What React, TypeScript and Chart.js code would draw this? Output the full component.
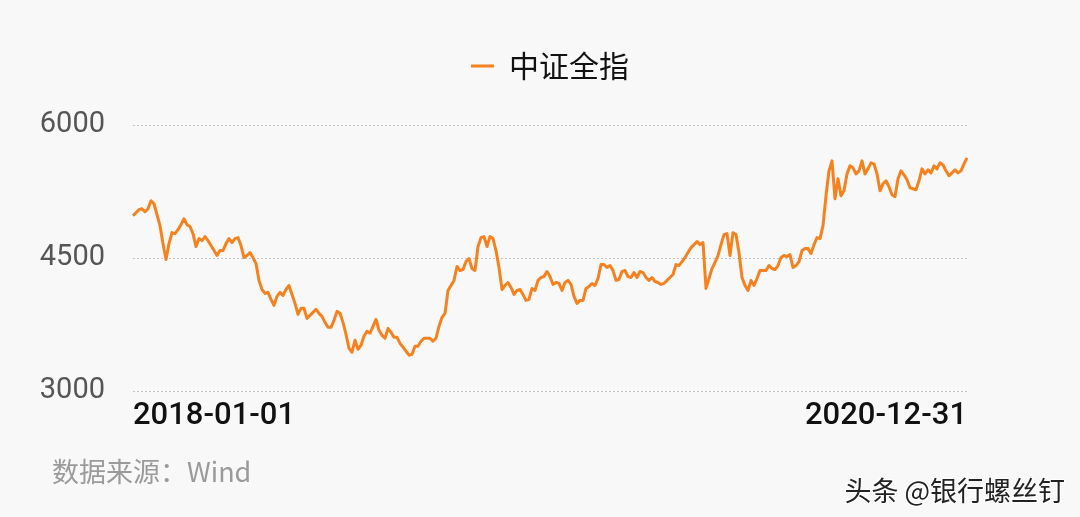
import React, { useEffect, useRef } from 'react';
import { Chart, registerables } from 'chart.js';

Chart.register(...registerables);

const seriesName = '中证全指';
const xTickLabels = ['2018-01-01', '2020-12-31'];
const yTickValues = [3000, 4500, 6000];
const sourceText = '数据来源：Wind';
const watermarkText = '头条 @银行螺丝钉';

const values2018 = [
  4977, 5011, 5045, 5056, 5022, 5056, 5146, 5112, 4988, 4865, 4662, 4483, 4662, 4786, 4775, 4820,
  4876, 4943, 4876, 4854, 4775, 4629, 4719, 4696, 4741, 4696, 4640, 4584, 4528, 4584, 4584, 4662,
  4719, 4674, 4719, 4730, 4640, 4505, 4528, 4561, 4505, 4438, 4247, 4145, 4100, 4112, 4033, 3966,
  4067, 4112, 4078, 4145, 4190, 4089, 3988, 3864, 3932, 3932, 3819, 3853, 3887, 3921, 3876, 3842,
  3774, 3718, 3718, 3797, 3898, 3876, 3774, 3640, 3482, 3437, 3572, 3471, 3516, 3617, 3673, 3651,
  3729, 3808, 3685, 3628, 3595, 3707, 3662, 3606, 3606, 3538, 3494, 3449, 3404,
];
const values2019 = [
  3415, 3505, 3505, 3561, 3595, 3595, 3595, 3561, 3595, 3729, 3831, 3876, 4134, 4190, 4247, 4404,
  4359, 4370, 4460, 4494, 4381, 4359, 4629, 4730, 4741, 4629, 4741, 4719, 4584, 4393, 4145, 4190,
  4224, 4168, 4089, 4134, 4145, 4089, 4022, 4033, 4157, 4134, 4247, 4280, 4291, 4348, 4291, 4202,
  4224, 4213, 4134, 4224, 4247, 4202, 4067, 3988, 4022, 4022, 4157, 4179, 4213, 4190, 4269, 4426,
  4426, 4393, 4415, 4359, 4247, 4258, 4348, 4359, 4291, 4280, 4336, 4280, 4348, 4336, 4280, 4247,
  4280, 4235, 4224, 4202, 4213, 4247, 4280, 4314, 4426, 4415, 4460, 4505, 4561,
];
const values2020 = [
  4617, 4651, 4685, 4651, 4674, 4157, 4269, 4381, 4449, 4528, 4651, 4764, 4775, 4528, 4786, 4764,
  4561, 4280, 4190, 4134, 4247, 4190, 4269, 4359, 4359, 4359, 4415, 4381, 4370, 4415, 4505, 4528,
  4516, 4539, 4393, 4415, 4460, 4584, 4606, 4606, 4550, 4651, 4730, 4719, 4865, 5202, 5483, 5595,
  5168, 5393, 5202, 5258, 5449, 5539, 5517, 5449, 5483, 5595, 5449, 5505, 5573, 5562, 5449, 5258,
  5337, 5371, 5303, 5213, 5191, 5393, 5483, 5438, 5382, 5292, 5281, 5269, 5371, 5505, 5449, 5494,
  5460, 5539, 5505, 5573, 5550, 5483, 5427, 5460, 5494, 5460, 5483, 5562, 5629,
];
const values = [...values2018, ...values2019, ...values2020];

const lineColor = '#f5821f';

export default function App() {
  const ref = useRef<HTMLCanvasElement | null>(null);

  useEffect(() => {
    if (!ref.current) return;
    const labels = values.map((_, i) => String(i));
    const last = values.length - 1;

    const legendSpacer = {
      id: 'legendSpacer',
      afterInit(chart: any) {
        const legend = chart.legend;
        if (!legend) return;
        const origFit = legend.fit;
        legend.fit = function () {
          origFit.call(this);
          this.height += 34;
        };
      },
    };

    const chart = new Chart(ref.current, {
      type: 'line',
      data: {
        labels,
        datasets: [
          {
            label: seriesName,
            data: values,
            borderColor: lineColor,
            backgroundColor: lineColor,
            borderWidth: 3,
            pointRadius: 0,
            tension: 0,
            borderJoinStyle: 'round',
          },
        ],
      },
      options: {
        animation: false,
        responsive: false,
        maintainAspectRatio: false,
        layout: { padding: { top: 19, right: 113, bottom: 0, left: 0 } },
        plugins: {
          legend: {
            position: 'top',
            fullSize: false,
            labels: {
              usePointStyle: true,
              pointStyleWidth: 23,
              pointStyle: 'line',
              padding: 32,
              color: '#111',
              font: { size: 30, family: '"Noto Sans CJK SC", "Noto Sans", sans-serif' },
            },
          },
          tooltip: { enabled: false },
        },
        scales: {
          x: {
            grid: { display: false },
            border: { display: false },
            ticks: {
              autoSkip: false,
              maxRotation: 0,
              minRotation: 0,
              align: 'inner',
              padding: -1,
              color: '#111',
              font: { size: 31, family: 'Roboto, "Noto Sans", sans-serif', weight: 500 },
              callback: (_v: any, i: number) =>
                i === 0 ? xTickLabels[0] : i === last ? xTickLabels[1] : '',
            },
            afterFit: (s: any) => {
              s.height = 126;
            },
          },
          y: {
            min: 3000,
            max: 6000,
            afterBuildTicks: (s: any) => {
              s.ticks = yTickValues.map((v) => ({ value: v }));
            },
            grid: { color: '#c4c4c4', lineWidth: 1, drawTicks: false },
            border: { display: false, dash: [2, 2] },
            ticks: {
              padding: 28,
              color: '#555',
              font: { size: 29, family: 'Roboto, "Noto Sans", sans-serif' },
              callback: (v: any) => String(v),
            },
            afterFit: (s: any) => {
              s.width = 133;
            },
          },
        },
      },
      plugins: [legendSpacer],
    } as any);

    return () => chart.destroy();
  }, []);

  return (
    <div
      style={{
        position: 'fixed',
        left: 0,
        top: 0,
        width: 1080,
        height: 517,
        background: '#f8f8f8',
        overflow: 'hidden',
      }}
    >
      <canvas ref={ref} width={1080} height={517} style={{ display: 'block', width: 1080, height: 517 }} />
      <div
        style={{
          position: 'absolute',
          left: 52,
          top: 457,
          fontSize: 27,
          lineHeight: '28px',
          color: '#9a9a9a',
          fontFamily: '"Noto Sans CJK SC", sans-serif',
          whiteSpace: 'nowrap',
        }}
      >
        {sourceText}
      </div>
      <div
        style={{
          position: 'absolute',
          right: 15,
          top: 475,
          fontSize: 27,
          lineHeight: '30px',
          color: '#222',
          fontFamily: '"Noto Sans CJK SC", sans-serif',
          whiteSpace: 'nowrap',
          textShadow: '1px 1px 0 #fff, -1px -1px 0 #fff, 1px -1px 0 #fff, -1px 1px 0 #fff',
        }}
      >
        {watermarkText}
      </div>
    </div>
  );
}
